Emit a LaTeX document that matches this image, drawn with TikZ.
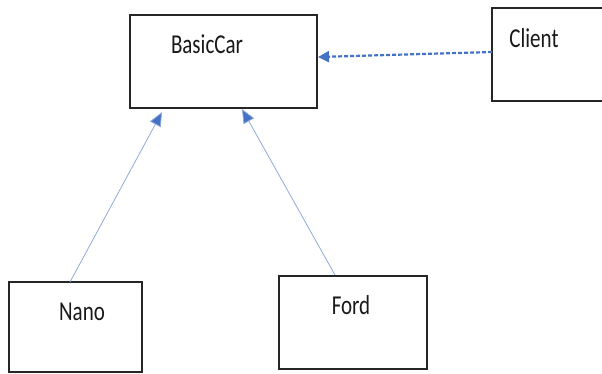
\documentclass[tikz,border=0pt]{standalone}
\usepackage{fontspec}
\usepackage{graphicx}
\setmainfont{Carlito}
\usetikzlibrary{arrows.meta,positioning}

\begin{document}
\begin{tikzpicture}[x=1pt,y=-1pt]
			\tikzstyle{Box}		= [rectangle, draw=black!85, line width=1.8pt, inner sep=0pt]
			\tikzstyle{Label}	= [font=\fontsize{21}{24}\selectfont, text=black!90, inner sep=0pt]
			\tikzstyle{Inherit}	= [draw={rgb,255:red,142;green,169;blue,219}, line width=0.8pt, -{Triangle[length=14pt,width=12pt,fill={rgb,255:red,68;green,114;blue,196}]}]
			\tikzstyle{Uses}	= [draw={rgb,255:red,68;green,114;blue,196}, line width=2.2pt, dash pattern=on 4pt off 2pt, -{Triangle[length=11pt,width=11pt]}]

			\useasboundingbox (0,0) rectangle (602,373);
			\clip (0,0) rectangle (602,373);

			\node (basic) at (223.5,61.5) [Box, minimum width=187pt, minimum height=93pt] {};
			\node (client) at (551,54.5) [Box, minimum width=118pt, minimum height=93pt] {};
			\node (nano) at (75.5,327) [Box, minimum width=133pt, minimum height=90pt] {};
			\node (ford) at (353,322.5) [Box, minimum width=148pt, minimum height=93pt] {};

			\node (basicLbl) at (207,44) [Label] {\scalebox{1}[1.3]{BasicCar}};
			\node (clientLbl) at (534,38) [Label] {\scalebox{1}[1.3]{Client}};
			\node (nanoLbl) at (82,312) [Label] {\scalebox{1}[1.3]{Nano}};
			\node (fordLbl) at (351,305) [Label] {\scalebox{1}[1.3]{Ford}};

			\coordinate (nanoTop) at (70,282);
			\coordinate (fordTop) at (335,275);
			\coordinate (basicL) at (162,112);
			\coordinate (basicR) at (242,109);
			\coordinate (clientW) at (492,52);
			\coordinate (basicE) at (318,57);

			\draw [Inherit] (nanoTop) to (basicL);
			\draw [Inherit] (fordTop) to (basicR);
			\draw [Uses] (clientW) to (basicE);
		\end{tikzpicture}
\end{document}
